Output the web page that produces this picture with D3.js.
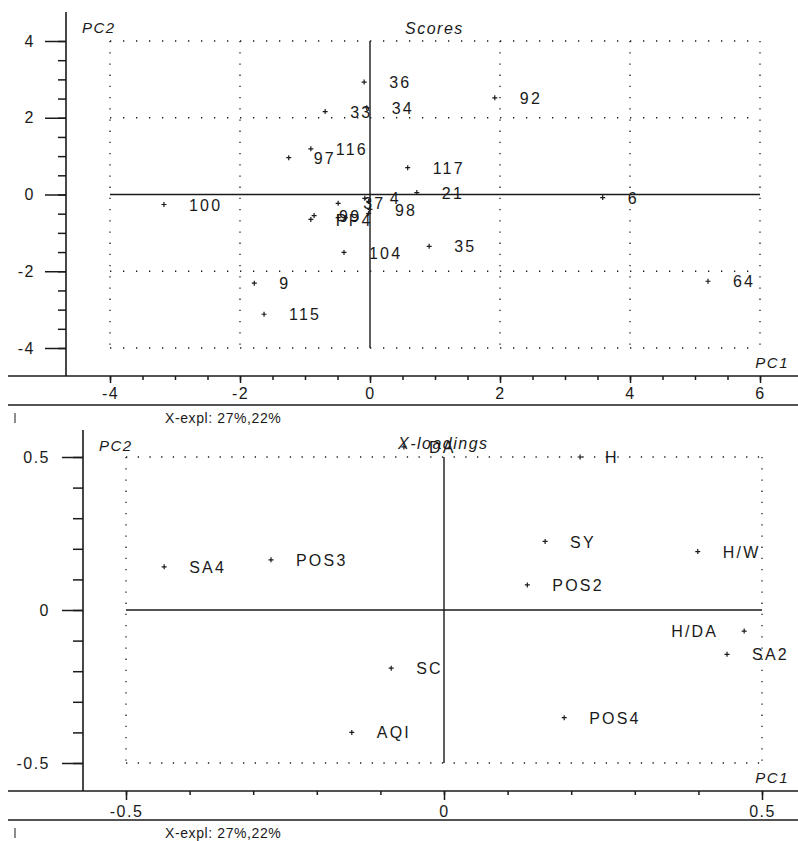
<!DOCTYPE html>
<html>
<head>
<meta charset="utf-8">
<script src="https://cdn.jsdelivr.net/npm/d3@7"></script>
<style>
  body { margin: 0; background: #fff; }
  svg { display: block; }
  text { font-family: "Liberation Sans", Arial, sans-serif; fill: #1a1a1a; }
</style>
</head>
<body>
<svg id="chart" width="798" height="841"></svg>
<script>
// PCA scores (PC1, PC2) per sample
const scoreIds = ["36", "33", "34", "92", "97", "116", "117", "21", "6", "64", "100", "9", "115", "104", "35",
                  "37", "4", "98", "99", "PP4", "", "", "", ""];
const scorePC1 = [-0.09, -0.69, -0.05, 1.92, -1.25, -0.91, 0.58, 0.72, 3.58, 5.20, -3.17, -1.78, -1.63, -0.40, 0.91,
                  -0.49, -0.08, 0.00, -0.86, -0.91, -0.49, -0.38, -0.02, -0.02];
const scorePC2 = [2.93, 2.16, 2.26, 2.52, 0.96, 1.19, 0.70, 0.05, -0.08, -2.26, -0.26, -2.31, -3.12, -1.51, -1.35,
                  -0.23, -0.10, -0.39, -0.55, -0.65, -0.60, -0.60, -0.49, -0.18];

// PCA loadings (PC1, PC2) per variable
const loadIds = ["SA4", "POS3", "DA", "H", "SY", "POS2", "H/W", "H/DA", "SA2", "POS4", "SC", "AQI"];
const loadPC1 = [-0.440, -0.272, -0.063, 0.214, 0.159, 0.131, 0.399, 0.472, 0.445, 0.189, -0.083, -0.145];
const loadPC2 = [0.141, 0.164, 0.533, 0.500, 0.224, 0.082, 0.191, -0.069, -0.145, -0.352, -0.190, -0.400];

// Tick values
const scoreXMajor = [-4, -2, 0, 2, 4, 6];
const scoreYMajor = [-4, -2, 0, 2, 4];
const loadXMajor = [-0.5, 0, 0.5];
const loadYMajor = [-0.5, 0, 0.5];

const explained = "X-expl: 27%,22%";
const leftLabels = new Set(["H/DA"]);

const svg = d3.select("#chart");
const INK = "#1a1a1a";

// plain hyphen for negative tick values
const hyphen = f => v => f(v).replace("\u2212", "-");

function panel(cfg) {
  const g = svg.append("g");
  const x = d3.scaleLinear().domain(cfg.xDomain).range(cfg.xRange);
  const y = d3.scaleLinear().domain(cfg.yDomain).range(cfg.yRange);
  const [x0, x1] = cfg.xDomain, [y0, y1] = cfg.yDomain;

  // dotted reference grid
  const grid = g.append("g").attr("stroke", INK).attr("stroke-width", 1.3);
  cfg.yMajor.filter(v => v !== 0).forEach(v => {
    grid.append("line").attr("x1", x(x0)).attr("x2", x(x1)).attr("y1", y(v)).attr("y2", y(v))
      .attr("stroke-dasharray", cfg.hDash);
  });
  cfg.xMajor.filter(v => v !== 0).forEach(v => {
    grid.append("line").attr("x1", x(v)).attr("x2", x(v)).attr("y1", y(y1)).attr("y2", y(y0))
      .attr("stroke-dasharray", cfg.vDash);
  });
  // solid origin lines
  g.append("line").attr("x1", x(x0)).attr("x2", x(x1)).attr("y1", y(0)).attr("y2", y(0))
    .attr("stroke", INK).attr("stroke-width", 1.4);
  g.append("line").attr("x1", x(0)).attr("x2", x(0)).attr("y1", y(y1)).attr("y2", y(y0))
    .attr("stroke", INK).attr("stroke-width", 1.4);

  // left axis
  const yAx = g.append("g").attr("transform", `translate(${cfg.yAxisX},0)`);
  yAx.call(d3.axisLeft(y).tickValues(cfg.yMinor).tickSize(cfg.yMinorLen).tickFormat(""));
  yAx.call(g2 => g2.append("g").call(
    d3.axisLeft(y).tickValues(cfg.yMajor).tickSize(21).tickPadding(cfg.yPad).tickFormat(cfg.fmt)));
  yAx.selectAll(".domain").remove();
  yAx.append("line").attr("y1", cfg.yAxisTop).attr("y2", cfg.xAxisY).attr("stroke", INK).attr("stroke-width", 1.6);

  // bottom axis
  const xAx = g.append("g").attr("transform", `translate(0,${cfg.xAxisY})`);
  xAx.call(d3.axisBottom(x).tickValues(cfg.xMinor).tickSize(cfg.xMinorLen).tickFormat(""));
  xAx.call(g2 => g2.append("g").call(
    d3.axisBottom(x).tickValues(cfg.xMajor).tickSize(cfg.xMajorLen).tickPadding(cfg.xPad).tickFormat(cfg.fmt)));
  xAx.selectAll(".domain").remove();
  xAx.append("line").attr("x1", 8).attr("x2", 798).attr("stroke", INK).attr("stroke-width", 1.6);

  g.selectAll(".tick line").attr("stroke", INK).attr("stroke-width", 1.5);
  g.selectAll(".tick text").attr("font-size", 16).attr("letter-spacing", 1.5)
    .attr("font-family", '"Liberation Sans", Arial, sans-serif').attr("fill", INK);

  // baseline under tick labels and explained variance
  g.append("line").attr("x1", 8).attr("x2", 798).attr("y1", cfg.xAxisY + 29).attr("y2", cfg.xAxisY + 29)
    .attr("stroke", INK).attr("stroke-width", 1.6);
  g.append("line").attr("x1", 15).attr("x2", 15).attr("y1", cfg.xAxisY + 37).attr("y2", cfg.xAxisY + 47)
    .attr("stroke", INK).attr("stroke-width", 1);
  g.append("text").attr("x", 165).attr("y", cfg.xAxisY + 42).attr("dy", "0.35em")
    .attr("font-size", 14).attr("letter-spacing", 0.6).text(explained);

  // axis names and title
  g.append("text").attr("x", cfg.yAxisX + 16).attr("y", cfg.yAxisTop + 16).attr("dy", "0.35em")
    .attr("font-size", 15).attr("font-style", "italic").attr("letter-spacing", 1.5).text("PC2");
  g.append("text").attr("x", 789).attr("y", cfg.xAxisY - 13).attr("dy", "0.35em").attr("text-anchor", "end")
    .attr("font-size", 15).attr("font-style", "italic").attr("letter-spacing", 1.5).text("PC1");
  g.append("text").attr("x", cfg.titleX).attr("y", cfg.yAxisTop + cfg.titleDy).attr("dy", "0.35em")
    .attr("font-size", 16).attr("font-style", "italic").attr("letter-spacing", 1.5).text(cfg.title);

  // points as small crosses with labels
  const pts = cfg.ids.map((id, i) => ({ id, px: x(cfg.xs[i]), py: y(cfg.ys[i]) }));
  const pg = g.append("g");
  pg.selectAll("path").data(pts).join("path")
    .attr("d", d => `M${d.px - 2.5},${d.py}H${d.px + 2.5}M${d.px},${d.py - 2.5}V${d.py + 2.5}`)
    .attr("stroke", INK).attr("stroke-width", 1.2);
  pg.selectAll("text").data(pts.filter(d => d.id)).join("text")
    .attr("x", d => leftLabels.has(d.id) ? d.px - 26 : d.px + 25)
    .attr("y", d => d.py)
    .attr("dy", "0.38em")
    .attr("text-anchor", d => leftLabels.has(d.id) ? "end" : "start")
    .attr("font-size", 16).attr("letter-spacing", 2.2)
    .text(d => d.id);
}

panel({
  xDomain: [-4, 6], yDomain: [-4, 4], xRange: [110, 760], yRange: [348, 41],
  xMajor: scoreXMajor, yMajor: scoreYMajor,
  xMinor: d3.range(-4, 6.01, 0.5), yMinor: d3.range(-4, 4.01, 0.5),
  yAxisX: 66, yAxisTop: 12, xAxisY: 376,
  yMinorLen: 8, yPad: 10, xMinorLen: 4, xMajorLen: 7, xPad: 5,
  hDash: "1.3 11.7", vDash: "1.3 9.9",
  fmt: hyphen(d3.format("d")),
  ids: scoreIds, xs: scorePC1, ys: scorePC2,
  title: "Scores", titleX: 405, titleDy: 16
});

panel({
  xDomain: [-0.5, 0.5], yDomain: [-0.5, 0.5], xRange: [126, 762], yRange: [763, 457],
  xMajor: loadXMajor, yMajor: loadYMajor,
  xMinor: d3.range(-0.5, 0.501, 0.1), yMinor: d3.range(-0.5, 0.501, 0.1),
  yAxisX: 83, yAxisTop: 430, xAxisY: 791,
  yMinorLen: 10, yPad: 12, xMinorLen: 4, xMajorLen: 9, xPad: 6,
  fmt: hyphen(v => v === 0 ? "0" : d3.format(".1f")(v)),
  hDash: "1.3 10.4", vDash: "1.3 9.9",
  ids: loadIds, xs: loadPC1, ys: loadPC2,
  title: "X-loadings", titleX: 398, titleDy: 13
});
</script>
</body>
</html>
